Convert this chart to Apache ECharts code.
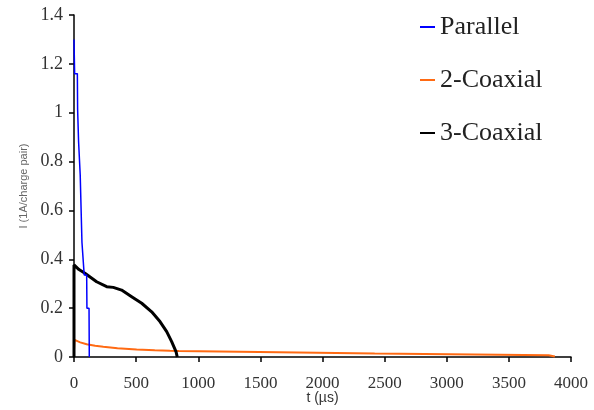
<!DOCTYPE html>
<html><head><meta charset="utf-8">
<script src="https://cdn.jsdelivr.net/npm/echarts@6/dist/echarts.min.js"></script>
<style>html,body{margin:0;padding:0;background:#fff}#c{width:594px;height:410px}</style>
</head><body><div id="c"></div>
<script>
var seriesNames = ['Parallel', '2-Coaxial', '3-Coaxial'];
var parallelT = [0, 5, 27, 29, 35, 37, 48, 50, 62, 64, 80, 82, 102, 104, 121, 123];
var parallelI = [1.30, 1.16, 1.16, 1.015, 1.015, 0.88, 0.88, 0.745, 0.745, 0.47, 0.47, 0.336, 0.336, 0.20, 0.20, 0.0];
var coax2T = [0, 5, 50, 102, 170, 236, 350, 504, 650, 772, 845, 853, 1490, 1500, 2420, 2430, 3820, 3830, 3870];
var coax2I = [0.03, 0.070, 0.060, 0.052, 0.046, 0.042, 0.036, 0.031, 0.028, 0.026, 0.025, 0.021, 0.020, 0.015, 0.014, 0.008, 0.007, 0.002, 0.002];
var coax3T = [0, 0, 40, 88, 182, 263, 316, 383, 464, 545, 625, 692, 746, 786, 821, 831];
var coax3I = [0.0, 0.377, 0.358, 0.343, 0.308, 0.288, 0.285, 0.274, 0.247, 0.220, 0.185, 0.145, 0.104, 0.063, 0.022, 0.0];
var xTicks = [0, 500, 1000, 1500, 2000, 2500, 3000, 3500, 4000];
var yTicks = [0, 0.2, 0.4, 0.6, 0.8, 1, 1.2, 1.4];

function zip(a, b) { return a.map(function (v, i) { return [v, b[i]]; }); }

var chart = echarts.init(document.getElementById('c'));
var serif = 'Liberation Serif';
chart.setOption({
  animation: false,
  backgroundColor: '#fff',
  grid: { left: 74, right: 23, top: 15, bottom: 53, containLabel: false, outerBoundsMode: 'none' },
  legend: {
    orient: 'vertical', left: 420, top: 14, itemGap: 27, padding: 0,
    itemWidth: 15, itemHeight: 2, icon: 'rect',
    textStyle: { fontFamily: serif, fontSize: 26, color: '#222' },
    data: seriesNames
  },
  xAxis: {
    type: 'value', min: 0, max: 4000, interval: 500,
    name: 't (\u00b5s)', nameLocation: 'middle', nameGap: 34, nameMoveOverlap: false,
    nameTextStyle: { fontFamily: 'Liberation Sans', fontSize: 14, color: '#333' },
    axisLine: { lineStyle: { color: '#000', width: 1.5 } },
    axisTick: { show: true, length: 5, lineStyle: { color: '#000', width: 1.5 } },
    axisLabel: { fontFamily: serif, fontSize: 17, color: '#333', margin: 18,
      formatter: function (v) { return String(v); } },
    splitLine: { show: false }
  },
  yAxis: {
    type: 'value', min: 0, max: 1.4, interval: 0.2,
    name: 'I (1A/charge pair)', nameLocation: 'middle', nameGap: 45, nameRotate: 90, nameMoveOverlap: false,
    nameTextStyle: { fontFamily: 'Liberation Sans', fontSize: 11, color: '#666' },
    axisLine: { show: true, lineStyle: { color: '#000', width: 1.5 } },
    axisTick: { show: true, length: 5, lineStyle: { color: '#000', width: 1.5 } },
    axisLabel: { fontFamily: serif, fontSize: 18, color: '#333', margin: 11,
      formatter: function (v) { return String(Math.round(v * 10) / 10); } },
    splitLine: { show: false }
  },
  series: [
    { name: seriesNames[0], type: 'line', data: zip(parallelT, parallelI), showSymbol: false,
      color: '#0000ff', lineStyle: { color: '#0000ff', width: 1.5 }, z: 3 },
    { name: seriesNames[1], type: 'line', data: zip(coax2T, coax2I), showSymbol: false,
      color: '#ff6a13', lineStyle: { color: '#ff6a13', width: 2 }, z: 2 },
    { name: seriesNames[2], type: 'line', data: zip(coax3T, coax3I), showSymbol: false,
      color: '#000', lineStyle: { color: '#000', width: 3 }, z: 2 }
  ]
});
</script></body></html>
